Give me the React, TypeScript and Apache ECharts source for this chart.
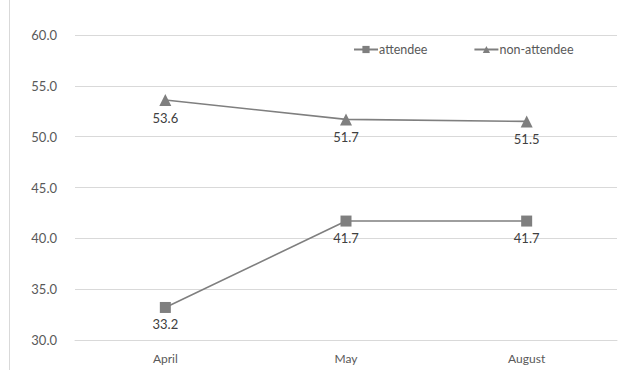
import React, { useEffect, useRef } from "react";
import * as echarts from "echarts";

const months = ["April", "May", "August"];
const attendee = [33.2, 41.7, 41.7];
const nonAttendee = [53.6, 51.7, 51.5];
const yMin = 30;
const yMax = 60;
const yStep = 5;

export default function App() {
  const ref = useRef<HTMLDivElement>(null);
  useEffect(() => {
    if (!ref.current) return;
    const chart = echarts.init(ref.current, undefined, { renderer: "svg" });
    const font = "Lato, 'Open Sans', sans-serif";
    const lineStyle = { color: "#7f7f7f", width: 1.6 };
    const label = {
      show: true,
      position: "bottom" as const,
      distance: 5,
      color: "#404040",
      fontSize: 13,
      fontFamily: font,
      formatter: (p: any) => Number(p.value).toFixed(1),
    };
    chart.setOption({
      animation: false,
      backgroundColor: "#ffffff",
      textStyle: { fontFamily: font },
      grid: { left: 75, right: 3, top: 35, bottom: 30, containLabel: false },
      legend: {
        top: 38,
        left: 348,
        itemGap: 46,
        itemWidth: 24,
        itemHeight: 9,
        textStyle: { color: "#595959", fontSize: 12.5, fontFamily: font, padding: [0, 0, 0, -4] },
        data: ["attendee", "non-attendee"],
      },
      xAxis: {
        type: "category",
        data: months,
        axisLine: { show: true, lineStyle: { color: "#d9d9d9", width: 1 } },
        axisTick: { show: false },
        axisLabel: { color: "#595959", fontSize: 12, fontFamily: font, margin: 12 },
      },
      yAxis: {
        type: "value",
        min: yMin,
        max: yMax,
        interval: yStep,
        axisLine: { show: false },
        axisTick: { show: false },
        splitLine: { lineStyle: { color: "#d9d9d9", width: 1 } },
        axisLabel: {
          color: "#595959",
          fontSize: 13,
          fontFamily: font,
          margin: 18,
          formatter: (v: number) => v.toFixed(1),
        },
      },
      graphic: [
        {
          type: "line",
          shape: { x1: 9.5, y1: 0, x2: 9.5, y2: 370 },
          style: { stroke: "#d9d9d9", lineWidth: 1 },
          silent: true,
        },
      ],
      series: [
        {
          name: "attendee",
          type: "line",
          data: attendee,
          symbol: "rect",
          symbolSize: 11,
          itemStyle: { color: "#7f7f7f" },
          lineStyle,
          label,
        },
        {
          name: "non-attendee",
          type: "line",
          data: nonAttendee,
          symbol: "triangle",
          symbolSize: 12,
          itemStyle: { color: "#7f7f7f" },
          lineStyle,
          label,
        },
      ],
    });
    return () => chart.dispose();
  }, []);
  return (
    <div
      ref={ref}
      style={{ position: "absolute", left: 0, top: 0, width: 620, height: 370 }}
    />
  );
}
